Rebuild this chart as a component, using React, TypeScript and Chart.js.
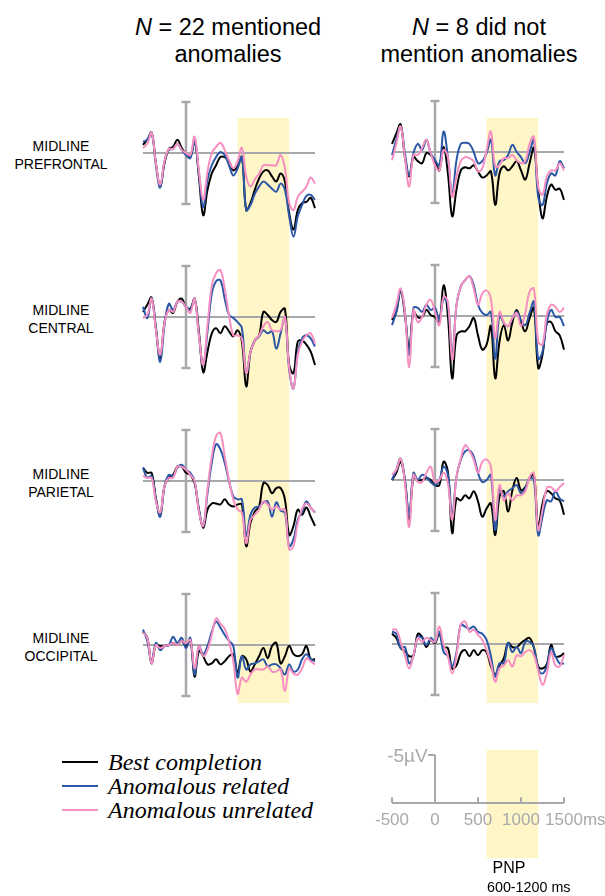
import React, { useEffect, useRef } from "react";
import { Chart, registerables } from "chart.js";

Chart.register(...registerables);

// ---------- data ----------
const TIME_MS = [
  -500, -450, -400, -350, -300, -250, -200, -150, -100, -50, 0, 50, 100, 150, 200, 250, 300, 350, 400, 450, 500,
  550, 600, 650, 700, 750, 800, 850, 900, 950, 1000, 1050, 1100, 1150, 1200, 1250, 1300, 1350, 1400, 1450, 1500,
];

const COLUMN_TITLES = [
  { n: "22", rest: " mentioned", line2: "anomalies" },
  { n: "8", rest: " did not", line2: "mention anomalies" },
];
const ROW_NAMES = [
  ["MIDLINE", "PREFRONTAL"],
  ["MIDLINE", "CENTRAL"],
  ["MIDLINE", "PARIETAL"],
  ["MIDLINE", "OCCIPITAL"],
];
const SERIES_NAMES = ["Best completion", "Anomalous related", "Anomalous unrelated"];
const SERIES_COLORS = ["#000000", "#2b57a7", "#f690c0"];

const PNP_WINDOW = [600, 1200];
const PNP_LABEL = ["PNP", "600-1200 ms"];
const SCALE_TICKS = [-500, 0, 500, 1000, 1500];
const TIME_UNIT = "ms";
const SCALE_UV = 5;
const BAR_UV = 5;

// N = 22 mentioned anomalies (µV, negative plotted up)
const PF22_BEST = [-0.8,-1.3,-2.0,1.0,3.3,1.0,-0.4,-0.6,-1.3,-0.5,0.1,0.4,-1.3,2.3,6.1,3.6,2.0,1.2,0.4,0.4,0.8,1.7,1.3,0.4,5.6,4.9,3.6,2.5,1.8,1.7,2.3,2.8,2.0,2.8,5.9,7.5,5.6,4.9,4.8,4.4,5.4];
const PF22_RELATED = [-1.1,-1.3,-2.0,1.2,3.4,0.8,-0.3,-0.4,-0.9,-0.3,0.2,0.5,-1.1,2.0,5.3,2.6,1.2,0.4,-0.1,0.2,1.2,2.2,1.5,0.4,5.6,5.1,4.0,3.3,2.8,3.1,3.5,3.8,3.0,3.6,6.2,8.2,6.2,5.1,4.2,4.1,4.6];
const PF22_UNRELATED = [-0.5,-0.9,-2.0,1.0,3.1,0.8,-0.4,-0.4,-0.9,-0.3,0.0,0.2,-1.6,1.7,4.6,1.8,0.0,-0.6,-1.0,-0.3,0.7,1.5,0.8,-0.5,2.3,3.3,2.6,2.0,1.2,1.2,1.2,1.2,0.2,1.5,4.9,5.6,4.3,3.8,3.3,2.4,3.0];

const CE22_BEST = [-0.5,-1.2,-1.9,1.1,4.1,0.5,-0.7,-0.4,-1.5,-1.8,-1.0,-0.8,-1.8,1.4,5.4,3.4,1.6,1.1,1.6,0.9,1.4,1.9,1.3,2.4,6.8,3.4,2.3,1.8,-0.5,-0.2,0.3,0.5,-0.5,-0.8,4.7,5.5,2.4,2.3,2.7,3.4,4.7];
const CE22_RELATED = [-1.0,0.1,-1.8,1.1,4.4,0.8,-1.3,-0.7,-1.5,-1.5,-1.0,-0.7,-1.8,1.8,4.7,1.4,-2.3,-3.5,-3.6,-1.8,-0.2,0.1,0.5,1.1,5.5,3.4,2.3,1.9,1.3,1.6,1.4,3.1,1.6,0.1,5.2,7.0,3.4,2.1,1.8,2.1,2.9];
const CE22_UNRELATED = [0.1,-0.2,-1.8,1.3,3.7,0.6,-0.7,-0.5,-1.5,-1.5,-1.0,-0.4,-1.8,1.8,4.7,0.8,-3.1,-4.3,-4.6,-2.8,-0.2,1.8,1.8,2.1,5.5,3.4,2.3,1.8,0.9,0.5,1.3,1.4,1.3,0.0,5.0,7.0,3.7,2.4,1.8,1.6,2.6];

const PA22_BEST = [-1.3,-0.8,-0.8,1.7,3.3,0.5,-0.3,-0.6,-1.4,-1.4,-0.8,-0.6,0.2,2.8,4.6,2.8,2.2,2.2,2.3,1.8,2.3,2.5,2.3,2.3,6.4,4.1,3.0,2.5,0.2,0.4,1.2,0.7,0.7,1.8,5.3,4.4,2.8,3.3,2.6,3.5,4.4];
const PA22_RELATED = [-1.3,-0.3,-0.5,1.8,3.5,0.5,-0.6,-0.5,-1.3,-1.6,-1.1,-0.8,0.0,2.8,4.4,1.2,-1.8,-3.6,-3.1,-1.8,0.0,1.5,1.8,1.8,5.4,3.3,2.6,2.5,2.1,2.0,3.5,2.1,2.9,3.1,6.4,5.7,3.8,3.0,2.0,2.6,3.1];
const PA22_UNRELATED = [-0.5,-0.3,-0.3,2.0,3.1,0.5,-0.3,-0.3,-1.4,-1.4,-1.1,-0.6,0.0,3.0,4.4,0.8,-2.4,-4.4,-4.7,-2.4,-0.1,1.8,2.8,3.1,6.1,3.8,3.3,2.8,2.0,2.3,2.8,2.5,2.8,2.8,6.7,6.4,4.1,2.7,2.2,2.6,3.1];

const OC22_BEST = [-1.3,-0.7,1.8,0.0,0.1,0.1,0.0,-0.2,0.0,-0.4,0.1,-0.5,3.1,0.6,1.1,1.9,1.8,1.4,1.9,1.6,1.1,0.9,2.7,1.1,1.4,2.6,1.9,1.1,0.3,1.3,0.1,-0.2,1.8,1.1,0.1,0.9,1.1,0.9,0.1,1.4,1.4];
const OC22_RELATED = [-1.5,-0.4,1.6,-0.2,0.5,0.1,0.0,-0.8,-0.2,-0.7,0.3,-0.7,2.9,0.1,0.9,0.1,-1.3,-2.3,-1.7,-1.0,-0.4,0.1,3.2,1.1,2.4,1.9,1.8,1.6,1.4,2.1,1.9,1.9,2.3,2.9,1.9,2.6,2.4,1.4,0.9,1.4,1.6];
const OC22_UNRELATED = [-1.2,-0.7,1.8,0.0,0.3,0.1,0.0,-0.2,0.0,-0.4,-0.2,-0.5,2.3,0.1,1.1,0.5,-1.0,-2.6,-2.1,-1.6,-0.4,1.6,4.8,3.2,3.6,2.9,2.4,2.4,2.4,2.1,2.6,2.6,2.4,4.5,2.3,2.8,2.9,2.3,1.3,1.6,1.9];

// N = 8 did not mention anomalies
const PF8_BEST = [-0.8,-1.8,-2.7,0.5,2.4,0.5,0.9,1.1,0.1,0.3,0.9,1.8,-0.5,2.1,6.3,3.7,1.8,1.5,1.6,1.3,1.9,2.5,2.3,1.9,5.2,2.1,1.4,1.8,1.4,0.9,1.8,2.7,1.1,-0.4,3.7,6.5,4.4,3.2,3.7,3.6,4.7];
const PF8_RELATED = [0.3,-1.2,-2.5,0.1,2.3,0.1,-0.8,-0.2,-1.2,0.1,0.8,1.3,-2.0,0.5,4.1,0.8,-0.8,-0.9,-0.8,0.0,1.1,0.9,0.1,-1.2,2.3,0.9,0.8,0.3,-0.7,0.0,0.5,1.1,0.0,-1.2,4.4,5.2,3.1,2.1,2.3,0.9,1.6];
const PF8_UNRELATED = [0.8,-0.8,-2.5,0.5,3.4,0.3,0.3,-0.4,-1.2,0.1,1.3,1.8,-0.2,0.5,4.4,2.4,0.9,0.5,0.6,0.9,1.9,1.6,-0.2,-2.0,1.4,1.3,0.6,0.6,0.3,0.8,1.1,0.9,-0.8,-1.5,3.4,4.2,2.4,1.8,1.8,1.1,1.8];

const CE8_BEST = [0.4,-0.4,-2.5,-0.1,3.2,-0.4,0.1,0.1,-0.6,-0.1,0.1,0.6,-3.0,0.0,6.1,1.9,1.5,1.5,1.0,0.2,1.9,3.3,2.8,1.0,6.1,2.5,0.9,2.4,0.6,-0.6,0.6,1.5,0.2,-0.8,5.1,3.8,0.7,0.6,1.5,1.9,3.3];
const CE8_RELATED = [0.9,-0.4,-2.5,-0.4,3.8,-0.8,-0.8,-0.4,-1.1,-0.6,-0.8,0.4,-1.7,-1.1,3.8,-1.1,-2.9,-3.5,-3.9,-3.0,-1.1,-0.3,-0.1,-0.4,4.2,-0.1,0.7,1.0,0.2,-0.4,0.4,0.9,-0.3,-1.4,4.2,3.5,0.6,-0.6,0.1,0.1,1.0];
const CE8_UNRELATED = [0.2,-1.1,-2.7,-0.4,5.0,-0.6,0.6,0.1,-1.1,-1.6,-0.4,0.9,-1.9,-1.4,4.3,-1.1,-2.9,-3.5,-3.9,-2.7,-1.1,-2.2,-2.5,-1.7,2.2,-0.4,0.6,1.0,0.2,-0.3,1.0,-0.3,-2.4,-2.7,2.5,2.8,-0.1,-1.1,-0.9,-0.4,-0.8];

const PA8_BEST = [0.0,-0.7,-1.8,0.0,3.9,-0.3,0.0,0.0,-0.2,0.0,0.5,0.5,-1.8,-0.8,5.2,1.8,2.0,1.5,1.8,1.1,2.1,3.6,2.8,2.3,5.4,1.6,1.1,3.1,1.0,-0.2,1.0,0.7,-0.2,-0.5,4.6,2.3,1.1,1.3,1.8,2.0,3.4];
const PA8_RELATED = [0.0,-1.0,-2.1,0.0,3.4,-0.7,0.0,-0.5,-0.3,0.2,0.5,0.0,-1.3,-0.5,3.3,-0.3,-2.0,-2.8,-2.9,-2.3,-0.7,0.2,0.0,-0.5,4.9,0.8,1.6,1.1,0.8,0.5,1.3,0.8,-0.2,0.0,5.4,3.6,2.0,2.1,1.1,1.8,2.1];
const PA8_UNRELATED = [-0.5,-1.0,-2.1,0.3,4.6,-0.5,0.2,0.2,-0.7,-1.3,0.2,0.0,-0.7,0.3,3.9,-0.3,-2.1,-3.4,-2.9,-2.0,-0.7,-1.8,-2.0,-1.3,3.9,0.5,2.0,1.3,2.0,1.5,1.5,1.1,-0.3,-0.7,4.9,2.9,0.8,0.7,1.1,0.7,0.3];

const OC8_BEST = [-1.0,-0.6,0.4,0.7,1.2,1.1,-1.0,-0.7,0.3,-0.4,-0.1,-1.0,0.3,0.4,2.4,2.1,0.9,0.6,1.2,0.6,1.1,0.6,0.8,2.2,3.0,2.1,1.4,-0.1,0.3,0.3,-0.1,-0.4,-0.6,0.4,2.2,2.4,2.0,0.1,1.2,1.2,0.9];
const OC8_RELATED = [-1.2,-1.0,0.4,0.3,1.9,1.1,-0.7,-0.6,0.1,-0.6,-0.2,-1.2,0.8,1.2,2.2,0.8,-1.9,-1.7,-1.5,-1.7,-1.2,-1.0,-0.4,1.2,3.2,1.9,1.9,-0.1,0.8,0.3,0.9,-0.2,-0.2,0.3,2.4,2.9,2.2,0.4,1.2,1.9,1.9];
const OC8_UNRELATED = [-1.4,-1.4,-0.2,1.1,2.4,1.1,-0.6,-0.2,-0.6,-0.4,-0.2,-1.7,0.1,1.2,2.9,1.1,-1.9,-2.2,-1.2,-1.4,-0.9,-0.4,0.6,1.9,3.7,2.4,2.1,1.6,2.2,1.1,1.2,0.8,0.6,1.1,2.6,4.0,2.9,0.8,2.1,2.2,1.1];

const MENTIONED = [
  [PF22_BEST, PF22_RELATED, PF22_UNRELATED],
  [CE22_BEST, CE22_RELATED, CE22_UNRELATED],
  [PA22_BEST, PA22_RELATED, PA22_UNRELATED],
  [OC22_BEST, OC22_RELATED, OC22_UNRELATED],
];
const NOT_MENTIONED = [
  [PF8_BEST, PF8_RELATED, PF8_UNRELATED],
  [CE8_BEST, CE8_RELATED, CE8_UNRELATED],
  [PA8_BEST, PA8_RELATED, PA8_UNRELATED],
  [OC8_BEST, OC8_RELATED, OC8_UNRELATED],
];

// ---------- style / layout ----------
const SANS = "'Liberation Sans', Arial, Helvetica, sans-serif";
const SERIF = "'Liberation Serif', 'Times New Roman', Times, serif";
const AXIS_GRAY = "#a6a8ab";
const LABEL_GRAY = "#a9a9a9";
const BAND_COLOR = "#fff6c7";

const FIRST_BASELINE = 153;
const ROW_PITCH = 164;
const BAND_TOP = 118;
const BAND_BOTTOM = 703;
const PX_PER_UV = 10.2;
const CANVAS_TOP = 90;
const CANVAS_H = 650;
const CAP_MS = 52;

const bandPlugin = {
  id: "pnpBand",
  beforeDatasetsDraw(chart: any) {
    const { ctx, chartArea, scales } = chart;
    const x0 = scales.x.getPixelForValue(PNP_WINDOW[0]);
    const x1 = scales.x.getPixelForValue(PNP_WINDOW[1]);
    ctx.save();
    ctx.fillStyle = BAND_COLOR;
    ctx.fillRect(x0, chartArea.top, x1 - x0, chartArea.bottom - chartArea.top);
    ctx.restore();
  },
};

function grayLine(points: { x: number; y: number }[], yAxisID: string, width: number) {
  return {
    data: points,
    yAxisID,
    borderColor: AXIS_GRAY,
    borderWidth: width,
    tension: 0,
    pointRadius: 0,
    clip: false,
    fill: false,
    borderCapStyle: "butt",
  };
}

function ColumnChart(props: {
  panels: number[][][];
  left: number;
  width: number;
  padLeft: number;
  padRight: number;
  baseShift: number;
}) {
  const ref = useRef<HTMLCanvasElement>(null);
  useEffect(() => {
    const { panels, padLeft, padRight, baseShift } = props;
    const datasets: any[] = [];
    const scales: any = { x: { type: "linear", min: TIME_MS[0], max: TIME_MS[TIME_MS.length - 1], display: false } };
    const spanUv = (BAND_BOTTOM - BAND_TOP) / PX_PER_UV;
    panels.forEach((series, r) => {
      const id = "y" + r;
      const off = FIRST_BASELINE + r * ROW_PITCH + baseShift - BAND_TOP;
      const min = -off / PX_PER_UV;
      scales[id] = { type: "linear", display: false, reverse: true, min, max: min + spanUv };
      for (let s = series.length - 1; s >= 0; s--) {
        datasets.push({
          label: SERIES_NAMES[s],
          data: series[s].map((v, i) => ({ x: TIME_MS[i], y: v })),
          yAxisID: id,
          borderColor: SERIES_COLORS[s],
          borderWidth: 2,
          tension: 0.4,
          pointRadius: 0,
          clip: false,
          fill: false,
        });
      }
      datasets.push(grayLine([{ x: TIME_MS[0], y: 0 }, { x: TIME_MS[TIME_MS.length - 1], y: 0 }], id, 2));
      datasets.push(grayLine([{ x: 0, y: -BAR_UV }, { x: 0, y: BAR_UV }], id, 2.5));
      datasets.push(grayLine([{ x: -CAP_MS, y: -BAR_UV }, { x: CAP_MS, y: -BAR_UV }], id, 2.5));
      datasets.push(grayLine([{ x: -CAP_MS, y: BAR_UV }, { x: CAP_MS, y: BAR_UV }], id, 2.5));
    });
    const chart = new Chart(ref.current as HTMLCanvasElement, {
      type: "line",
      data: { datasets },
      options: {
        animation: false,
        responsive: false,
        maintainAspectRatio: false,
        layout: {
          padding: {
            left: padLeft,
            right: padRight,
            top: BAND_TOP - CANVAS_TOP,
            bottom: CANVAS_TOP + CANVAS_H - BAND_BOTTOM,
          },
        },
        plugins: { legend: { display: false }, tooltip: { enabled: false } },
        scales,
      } as any,
      plugins: [bandPlugin],
    });
    return () => chart.destroy();
  }, []);
  return (
    <canvas
      ref={ref}
      width={props.width}
      height={CANVAS_H}
      style={{ position: "absolute", left: props.left, top: CANVAS_TOP, width: props.width, height: CANVAS_H }}
    />
  );
}

const scaleLabelsPlugin = {
  id: "scaleLabels",
  afterDatasetsDraw(chart: any) {
    const { ctx, scales } = chart;
    const xs = scales.x;
    const ys = scales.y;
    const y0 = ys.getPixelForValue(0);
    ctx.save();
    ctx.fillStyle = LABEL_GRAY;
    ctx.font = `17px ${SANS}`;
    ctx.textBaseline = "alphabetic";
    SCALE_TICKS.forEach((t, i) => {
      const x = xs.getPixelForValue(t);
      const txt = String(t);
      ctx.textAlign = "center";
      ctx.fillText(txt, x, y0 + 22);
      if (i === SCALE_TICKS.length - 1) {
        const w = ctx.measureText(txt).width;
        ctx.textAlign = "left";
        ctx.fillText(TIME_UNIT, x + w / 2, y0 + 22);
      }
    });
    ctx.textAlign = "right";
    ctx.font = `19px ${SANS}`;
    ctx.fillText(`-${SCALE_UV}\u00b5V`, xs.getPixelForValue(-85), ys.getPixelForValue(-SCALE_UV) + 7);
    ctx.restore();
  },
};

function ScaleChart() {
  const ref = useRef<HTMLCanvasElement>(null);
  useEffect(() => {
    const pxPerUv = 9.6;
    const top = 750;
    const bottom = 858;
    const zeroY = 803;
    const min = -(zeroY - top) / pxPerUv;
    const max = min + (bottom - top) / pxPerUv;
    const datasets: any[] = [
      grayLine([{ x: SCALE_TICKS[0], y: 0 }, { x: SCALE_TICKS[SCALE_TICKS.length - 1], y: 0 }], "y", 2),
      grayLine([{ x: 0, y: 0 }, { x: 0, y: -SCALE_UV }], "y", 2),
      grayLine([{ x: -80, y: -SCALE_UV }, { x: 0, y: -SCALE_UV }], "y", 2),
    ];
    SCALE_TICKS.filter((t) => t !== 0).forEach((t) => {
      datasets.push(grayLine([{ x: t, y: 0 }, { x: t, y: -0.6 }], "y", 2));
    });
    const chart = new Chart(ref.current as HTMLCanvasElement, {
      type: "line",
      data: { datasets },
      options: {
        animation: false,
        responsive: false,
        maintainAspectRatio: false,
        layout: { padding: { left: 32, right: 41, top: top - 740, bottom: 870 - bottom } },
        plugins: { legend: { display: false }, tooltip: { enabled: false } },
        scales: {
          x: { type: "linear", min: SCALE_TICKS[0], max: SCALE_TICKS[SCALE_TICKS.length - 1], display: false },
          y: { type: "linear", reverse: true, min, max, display: false },
        },
      } as any,
      plugins: [bandPlugin, scaleLabelsPlugin],
    });
    return () => chart.destroy();
  }, []);
  return (
    <canvas
      ref={ref}
      width={245}
      height={130}
      style={{ position: "absolute", left: 360, top: 740, width: 245, height: 130 }}
    />
  );
}

export default function App() {
  const titleCenters = [228, 479];
  return (
    <div
      style={{
        position: "absolute",
        left: 0,
        top: 0,
        width: 605,
        height: 896,
        overflow: "hidden",
        background: "#ffffff",
        fontFamily: SANS,
      }}
    >
      {COLUMN_TITLES.map((t, i) => (
        <div
          key={"t" + i}
          style={{
            position: "absolute",
            left: titleCenters[i] - 125,
            width: 250,
            top: 14,
            textAlign: "center",
            fontSize: 23.5,
            lineHeight: "27px",
            color: "#000",
            whiteSpace: "nowrap",
          }}
        >
          <div>
            <i>N</i> = {t.n}
            {t.rest}
          </div>
          <div>{t.line2}</div>
        </div>
      ))}

      {ROW_NAMES.map((lines, r) => (
        <div
          key={"r" + r}
          style={{
            position: "absolute",
            left: 0,
            width: 122,
            top: FIRST_BASELINE + r * ROW_PITCH - 16,
            textAlign: "center",
            fontSize: 14,
            lineHeight: "18px",
            color: "#000",
          }}
        >
          {lines.map((l, j) => (
            <div key={j}>{l}</div>
          ))}
        </div>
      ))}

      <ColumnChart panels={MENTIONED} left={133} width={193} padLeft={10} padRight={11} baseShift={0} />
      <ColumnChart panels={NOT_MENTIONED} left={380} width={200} padLeft={12} padRight={16} baseShift={-1} />
      <ScaleChart />

      {SERIES_NAMES.map((name, i) => (
        <div
          key={"l" + i}
          style={{
            position: "absolute",
            left: 62,
            top: 750 + i * 24,
            height: 24,
            display: "flex",
            alignItems: "center",
            whiteSpace: "nowrap",
          }}
        >
          <span
            style={{ display: "inline-block", width: 36, height: 2, background: SERIES_COLORS[i], marginRight: 10 }}
          />
          <span style={{ fontFamily: SERIF, fontStyle: "italic", fontSize: 24, lineHeight: "24px", color: "#000" }}>
            {name}
          </span>
        </div>
      ))}

      <div
        style={{
          position: "absolute",
          left: 449,
          width: 120,
          top: 858,
          textAlign: "center",
          fontSize: 16,
          lineHeight: "19px",
          color: "#000",
          whiteSpace: "nowrap",
        }}
      >
        {PNP_LABEL[0]}
      </div>
      <div
        style={{
          position: "absolute",
          left: 487,
          top: 878,
          fontSize: 14.3,
          lineHeight: "18px",
          color: "#000",
          whiteSpace: "nowrap",
        }}
      >
        {PNP_LABEL[1]}
      </div>
    </div>
  );
}
